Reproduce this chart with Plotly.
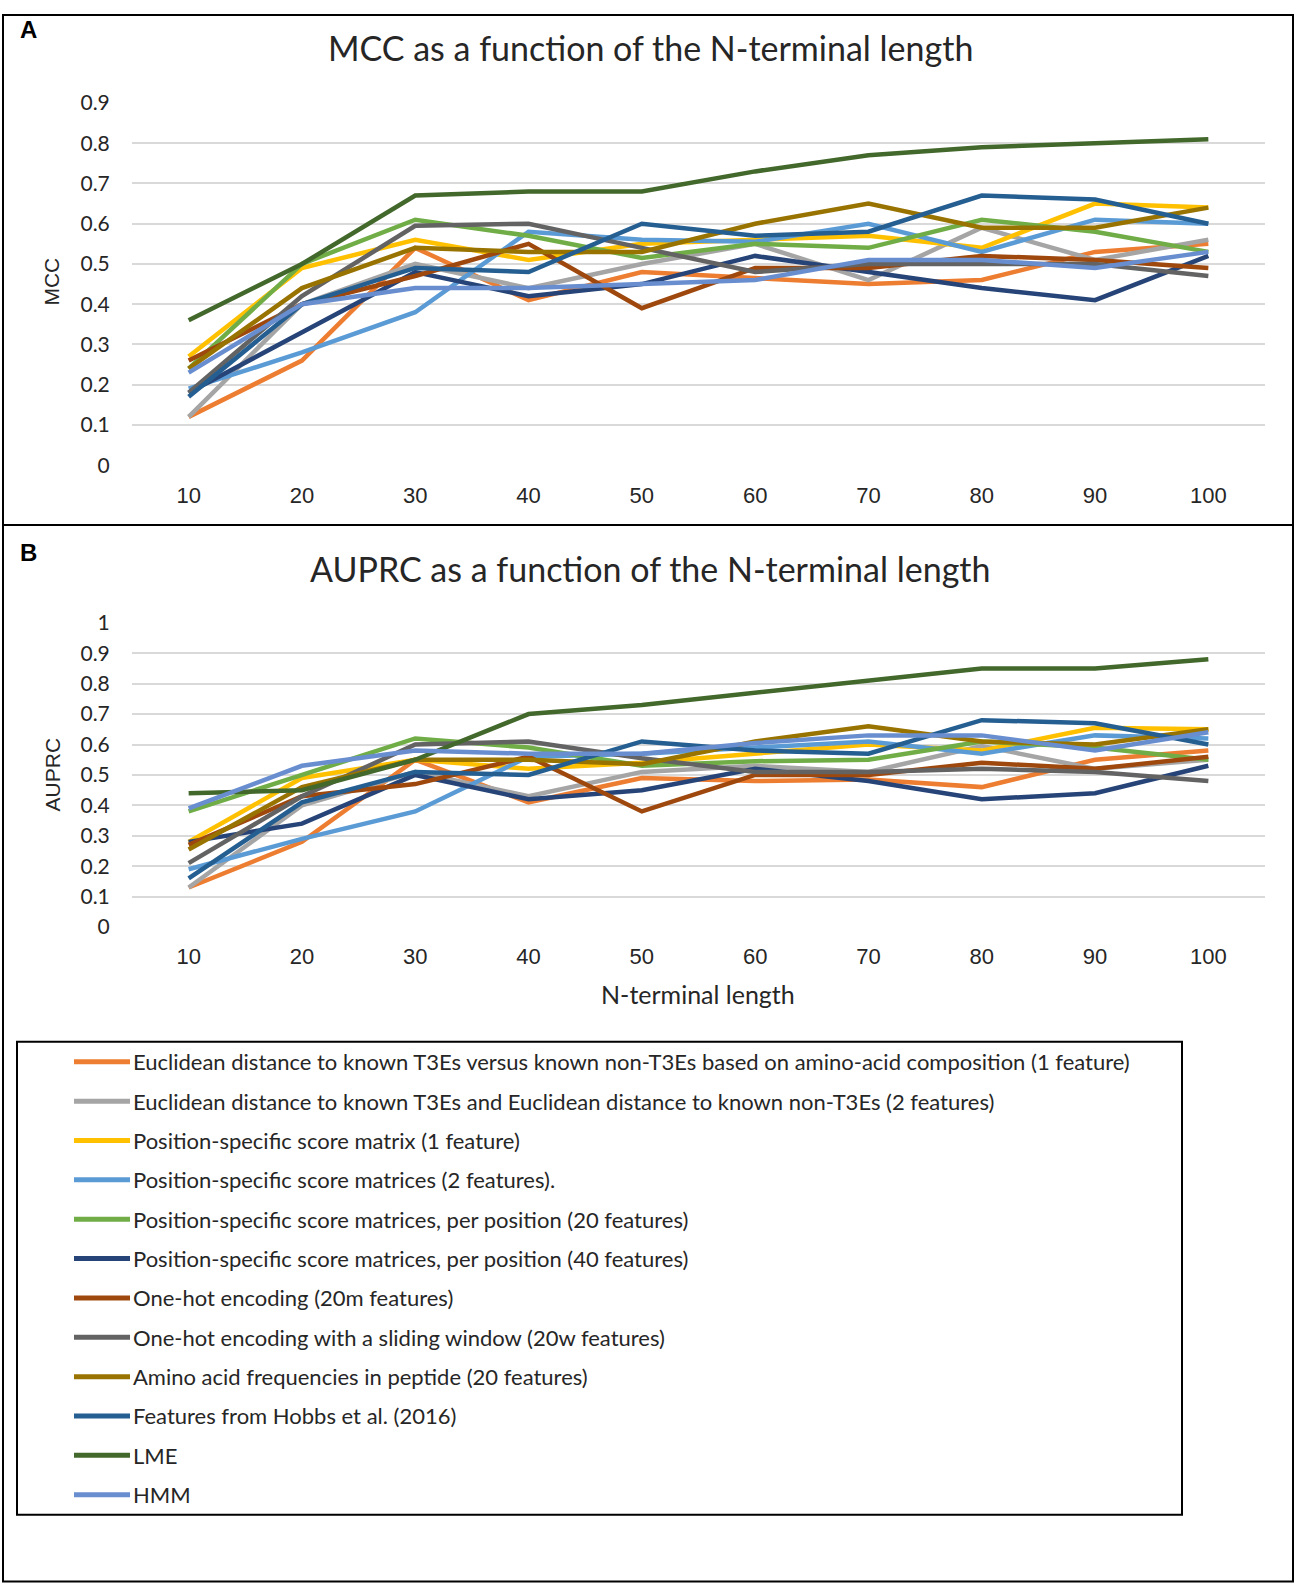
import plotly.graph_objects as go

W, H = 1299, 1594

n_terminal_length = [10, 20, 30, 40, 50, 60, 70, 80, 90, 100]

series_names = [
    "Euclidean distance to known T3Es versus known non-T3Es based on amino-acid composition (1 feature)",
    "Euclidean distance to known T3Es and Euclidean distance to known non-T3Es (2 features)",
    "Position-specific score matrix (1 feature)",
    "Position-specific score matrices (2 features).",
    "Position-specific score matrices, per position (20 features)",
    "Position-specific score matrices, per position (40 features)",
    "One-hot encoding (20m features)",
    "One-hot encoding with a sliding window (20w features)",
    "Amino acid frequencies in peptide (20 features)",
    "Features from Hobbs et al. (2016)",
    "LME",
    "HMM",
]

series_colors = [
    "#ED7D31", "#A5A5A5", "#FFC000", "#5B9BD5", "#70AD47", "#264478",
    "#9E480E", "#636363", "#997300", "#255E91", "#43682B", "#698ED0",
]

# Panel A: MCC
mcc_euclid_1 = [0.12, 0.26, 0.54, 0.41, 0.48, 0.465, 0.45, 0.46, 0.53, 0.55]
mcc_euclid_2 = [0.12, 0.40, 0.50, 0.44, 0.50, 0.55, 0.46, 0.59, 0.51, 0.56]
mcc_pssm_1 = [0.27, 0.49, 0.56, 0.51, 0.55, 0.56, 0.57, 0.54, 0.65, 0.64]
mcc_pssm_2 = [0.19, 0.28, 0.38, 0.58, 0.56, 0.555, 0.60, 0.53, 0.61, 0.60]
mcc_pssm_pos20 = [0.24, 0.50, 0.61, 0.57, 0.515, 0.55, 0.54, 0.61, 0.58, 0.53]
mcc_pssm_pos40 = [0.18, 0.33, 0.48, 0.42, 0.45, 0.52, 0.48, 0.44, 0.41, 0.52]
mcc_onehot_20m = [0.26, 0.40, 0.47, 0.55, 0.39, 0.49, 0.49, 0.52, 0.51, 0.49]
mcc_onehot_20w = [0.18, 0.42, 0.595, 0.60, 0.54, 0.48, 0.50, 0.50, 0.50, 0.47]
mcc_aa_freq = [0.24, 0.44, 0.54, 0.53, 0.53, 0.60, 0.65, 0.59, 0.59, 0.64]
mcc_hobbs = [0.17, 0.40, 0.49, 0.48, 0.60, 0.57, 0.58, 0.67, 0.66, 0.60]
mcc_lme = [0.36, 0.50, 0.67, 0.68, 0.68, 0.73, 0.77, 0.79, 0.80, 0.81]
mcc_hmm = [0.23, 0.40, 0.44, 0.44, 0.45, 0.46, 0.51, 0.51, 0.49, 0.53]

# Panel B: AUPRC
auprc_euclid_1 = [0.13, 0.28, 0.55, 0.41, 0.49, 0.48, 0.485, 0.46, 0.55, 0.58]
auprc_euclid_2 = [0.13, 0.40, 0.51, 0.43, 0.51, 0.53, 0.51, 0.595, 0.52, 0.55]
auprc_pssm_1 = [0.28, 0.49, 0.55, 0.52, 0.54, 0.57, 0.60, 0.58, 0.655, 0.65]
auprc_pssm_2 = [0.19, 0.29, 0.38, 0.56, 0.57, 0.59, 0.61, 0.57, 0.63, 0.62]
auprc_pssm_pos20 = [0.38, 0.50, 0.62, 0.59, 0.53, 0.545, 0.55, 0.61, 0.59, 0.55]
auprc_pssm_pos40 = [0.28, 0.34, 0.50, 0.42, 0.45, 0.52, 0.48, 0.42, 0.44, 0.53]
auprc_onehot_20m = [0.27, 0.43, 0.47, 0.56, 0.38, 0.50, 0.50, 0.54, 0.52, 0.56]
auprc_onehot_20w = [0.21, 0.43, 0.60, 0.61, 0.555, 0.51, 0.51, 0.52, 0.51, 0.48]
auprc_aa_freq = [0.255, 0.46, 0.55, 0.55, 0.535, 0.61, 0.66, 0.61, 0.60, 0.65]
auprc_hobbs = [0.16, 0.41, 0.51, 0.50, 0.61, 0.58, 0.57, 0.68, 0.67, 0.60]
auprc_lme = [0.44, 0.45, 0.55, 0.70, 0.73, 0.77, 0.81, 0.85, 0.85, 0.88]
auprc_hmm = [0.39, 0.53, 0.58, 0.57, 0.57, 0.605, 0.63, 0.63, 0.58, 0.64]

mcc_values = [mcc_euclid_1, mcc_euclid_2, mcc_pssm_1, mcc_pssm_2, mcc_pssm_pos20,
              mcc_pssm_pos40, mcc_onehot_20m, mcc_onehot_20w, mcc_aa_freq,
              mcc_hobbs, mcc_lme, mcc_hmm]
auprc_values = [auprc_euclid_1, auprc_euclid_2, auprc_pssm_1, auprc_pssm_2,
                auprc_pssm_pos20, auprc_pssm_pos40, auprc_onehot_20m,
                auprc_onehot_20w, auprc_aa_freq, auprc_hobbs, auprc_lme, auprc_hmm]

x_ticks = [10, 20, 30, 40, 50, 60, 70, 80, 90, 100]
mcc_ticks = [0, 0.1, 0.2, 0.3, 0.4, 0.5, 0.6, 0.7, 0.8, 0.9]
mcc_tick_text = ["0", "0.1", "0.2", "0.3", "0.4", "0.5", "0.6", "0.7", "0.8", "0.9"]
auprc_ticks = [0, 0.1, 0.2, 0.3, 0.4, 0.5, 0.6, 0.7, 0.8, 0.9, 1.0]
auprc_tick_text = ["0", "0.1", "0.2", "0.3", "0.4", "0.5", "0.6", "0.7", "0.8", "0.9", "1"]

# the returned picture maps figure row y to 12.8 + 0.9866*y; place items so they land
# on the reference rows
Y_OFF, Y_SCALE = 12.8, 0.9866


def px(x):
    return x / W


def fig_row(y_target):
    return min(max((y_target - Y_OFF) / Y_SCALE, 1.0), H - 1.5)


def py(y_target):
    return 1 - fig_row(y_target) / H


fig = go.Figure()
for name, color, ya, yb in zip(series_names, series_colors, mcc_values, auprc_values):
    fig.add_trace(go.Scatter(x=n_terminal_length, y=ya, mode="lines", name=name,
                             line=dict(color=color, width=4.5), xaxis="x", yaxis="y",
                             showlegend=False))
    fig.add_trace(go.Scatter(x=n_terminal_length, y=yb, mode="lines", name=name,
                             line=dict(color=color, width=4.5), xaxis="x2", yaxis="y2",
                             showlegend=False))

grid_col = "#D9D9D9"
xfont = dict(family="Liberation Sans, Arial", size=22, color="#262626")
yfont = dict(family="Lato", size=21, color="#262626")
xdom = [px(132), px(1265)]

common_x = dict(range=[5, 105], tickvals=x_ticks, ticktext=[str(v) for v in x_ticks],
                showgrid=False, zeroline=False, showline=False, ticks="outside",
                ticklen=10, tickcolor="rgba(0,0,0,0)", tickfont=xfont, fixedrange=True)
common_y = dict(showgrid=True, gridcolor=grid_col, gridwidth=1.5, zeroline=False,
                showline=False, ticks="outside", ticklen=17,
                tickcolor="rgba(0,0,0,0)", tickfont=yfont, fixedrange=True)

fig.update_layout(
    width=W, height=H,
    margin=dict(l=0, r=0, t=0, b=0),
    paper_bgcolor="white", plot_bgcolor="white",
    showlegend=False,
    xaxis=dict(domain=xdom, anchor="y", **common_x),
    yaxis=dict(domain=[py(465), py(102)], anchor="x", range=[0, 0.9],
               tickvals=mcc_ticks, ticktext=mcc_tick_text, **common_y),
    xaxis2=dict(domain=xdom, anchor="y2", **common_x),
    yaxis2=dict(domain=[py(928), py(623)], anchor="x2", range=[0, 1.0],
                tickvals=auprc_ticks, ticktext=auprc_tick_text, **common_y),
)

shapes = []
# outer frame and panel divider
shapes.append(dict(type="rect", xref="paper", yref="paper", x0=px(3), x1=px(1293),
                   y0=py(1590), y1=py(3), line=dict(color="black", width=2)))
shapes.append(dict(type="line", xref="paper", yref="paper", x0=px(3), x1=px(1293),
                   y0=py(525), y1=py(525), line=dict(color="black", width=2)))
# legend box
shapes.append(dict(type="rect", xref="paper", yref="paper", x0=px(17), x1=px(1182),
                   y0=py(1517), y1=py(1043), line=dict(color="black", width=2)))

annotations = []
annotations.append(dict(text="<b>A</b>", x=px(28), y=py(28), xref="paper", yref="paper",
                        showarrow=False, xanchor="center", yanchor="middle",
                        font=dict(family="Liberation Sans, Arial", size=24, color="black")))
annotations.append(dict(text="<b>B</b>", x=px(28), y=py(553), xref="paper", yref="paper",
                        showarrow=False, xanchor="center", yanchor="middle",
                        font=dict(family="Liberation Sans, Arial", size=24, color="black")))
title_font = dict(family="Lato", size=34, color="#262626")
annotations.append(dict(text="MCC as a function of the N-terminal length", x=px(650),
                        y=py(46), xref="paper", yref="paper", showarrow=False,
                        xanchor="center", yanchor="middle", font=title_font))
annotations.append(dict(text="AUPRC as a function of the N-terminal length", x=px(650),
                        y=py(569), xref="paper", yref="paper", showarrow=False,
                        xanchor="center", yanchor="middle", font=title_font))
axis_title_font = dict(family="Liberation Sans, Arial", size=21, color="#262626")
annotations.append(dict(text="MCC", x=px(52), y=py(281), xref="paper", yref="paper",
                        showarrow=False, textangle=-90, xanchor="center",
                        yanchor="middle", font=axis_title_font))
annotations.append(dict(text="AUPRC", x=px(52), y=py(775), xref="paper", yref="paper",
                        showarrow=False, textangle=-90, xanchor="center",
                        yanchor="middle", font=axis_title_font))
annotations.append(dict(text="N-terminal length", x=px(698), y=py(995), xref="paper",
                        yref="paper", showarrow=False, xanchor="center",
                        yanchor="middle",
                        font=dict(family="Lato", size=25, color="#262626")))

# legend entries
legend_font = dict(family="Lato", size=22, color="#262626")
for i, (name, color) in enumerate(zip(series_names, series_colors)):
    yrow = 1063 + i * 39.45
    shapes.append(dict(type="line", xref="paper", yref="paper", x0=px(74), x1=px(130),
                       y0=py(yrow), y1=py(yrow), line=dict(color=color, width=5)))
    annotations.append(dict(text=name, x=px(131), y=py(yrow), xref="paper", yref="paper",
                            showarrow=False, xanchor="left", yanchor="middle",
                            font=legend_font))

fig.update_layout(shapes=shapes, annotations=annotations)

post = (
    "document.documentElement.style.margin='0';"
    "document.documentElement.style.padding='0';"
    "document.documentElement.style.overflow='hidden';"
    "document.body.style.margin='0';"
    "document.body.style.padding='0';"
    "document.body.style.overflow='hidden';"
    "var gd=document.getElementById('{plot_id}');"
    "gd.style.position='fixed';gd.style.left='0px';gd.style.top='0px';"
)
fig.write_html("out.html", config={"displayModeBar": False}, post_script=post)
